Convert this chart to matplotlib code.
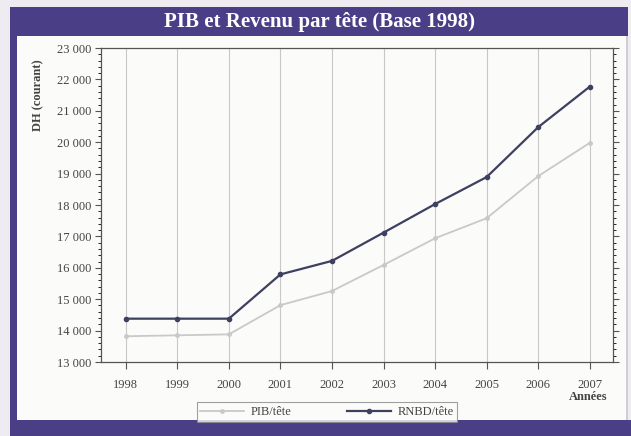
import matplotlib.pyplot as plt
from matplotlib.patches import Rectangle
from matplotlib.ticker import MultipleLocator, FuncFormatter

# --------------------------------------------------
# Data
# --------------------------------------------------
years = [1998, 1999, 2000, 2001, 2002, 2003, 2004, 2005, 2006, 2007]
pib_tete = [13820, 13850, 13880, 14810, 15260, 16090, 16940, 17580, 18920, 19980]
rnbd_tete = [14380, 14380, 14380, 15790, 16220, 17120, 18030, 18890, 20480, 21770]
y_ticks = list(range(13000, 23001, 1000))

purple = "#4a3f86"
serif = ["Liberation Serif", "DejaVu Serif"]

# --------------------------------------------------
# Figure and frame
# --------------------------------------------------
fig = plt.figure(figsize=(6.31, 4.36), dpi=100)
fig.patch.set_facecolor("#eeecf1")
W, H = 631, 436


def px_rect(x0, y0, x1, y1, color):
    fig.patches.append(Rectangle((x0 / W, 1 - y1 / H), (x1 - x0) / W, (y1 - y0) / H,
                                 transform=fig.transFigure, facecolor=color,
                                 edgecolor="none", zorder=-5))


px_rect(10, 7, 628, 436, "#fbfbfa")      # inner panel
px_rect(10, 7, 628, 36, purple)           # title bar
px_rect(10, 7, 17, 436, purple)           # left band
px_rect(10, 420, 631, 436, purple)        # bottom band
px_rect(626, 36, 628, 420, "#cfcbd8")     # right edge

fig.text(320 / W, 1 - 22 / H, "PIB et Revenu par tête (Base 1998)", color="white",
         fontsize=15, fontweight="bold", family=serif, ha="center", va="center")

# --------------------------------------------------
# Plot
# --------------------------------------------------
ax = fig.add_axes([101 / W, 1 - 362 / H, (613 - 101) / W, (362 - 48) / H])
ax.set_facecolor("none")

ax.plot(years, pib_tete, color="#c9c9c9", lw=1.3, marker="o", ms=2.5, label="PIB/tête", zorder=3)
ax.plot(years, rnbd_tete, color="#3e4060", lw=1.6, marker="o", ms=3, label="RNBD/tête", zorder=4)

ax.set_xlim(1997.52, 2007.45)
ax.set_ylim(13000, 23000)
ax.set_xticks(years)
ax.set_yticks(y_ticks)
ax.yaxis.set_minor_locator(MultipleLocator(200))
ax.yaxis.set_major_formatter(FuncFormatter(lambda v, p: f"{int(v):,}".replace(",", "\u00a0")))
ax.grid(axis="x", color="#c8c8c8", lw=0.8)

ax.tick_params(axis="both", labelsize=9, colors="#555555", labelcolor="#444444", width=0.8)
ax.tick_params(axis="x", direction="out", length=5, pad=7)
ax.tick_params(axis="y", direction="out", length=4, pad=3)
ax.tick_params(axis="y", which="minor", direction="out", length=2, right=True)
ax.tick_params(axis="y", which="major", right=True)
for lab in ax.get_xticklabels() + ax.get_yticklabels():
    lab.set_family(serif)
for sp in ax.spines.values():
    sp.set_color("#555555")
    sp.set_linewidth(0.9)

ax.set_ylabel("DH (courant)", fontsize=9, fontweight="bold", family=serif, color="#444444")
ax.yaxis.set_label_coords(-0.11, 0.85)
fig.text(588 / W, 1 - 397 / H, "Années", fontsize=9, fontweight="bold", family=serif,
         color="#444444", ha="center", va="center")

leg = fig.legend(loc="center", bbox_to_anchor=(327 / W, 1 - 412 / H), ncol=2, frameon=True,
                 fancybox=False, prop={"family": serif, "size": 9}, handlelength=3.5,
                 columnspacing=4.5, borderpad=0.3, handletextpad=0.5, borderaxespad=0)
leg.get_frame().set_edgecolor("#888888")
leg.get_frame().set_facecolor("#fbfbfa")
leg.get_frame().set_linewidth(0.8)
for t in leg.get_texts():
    t.set_color("#444444")

plt.savefig("out.png", dpi=100)
